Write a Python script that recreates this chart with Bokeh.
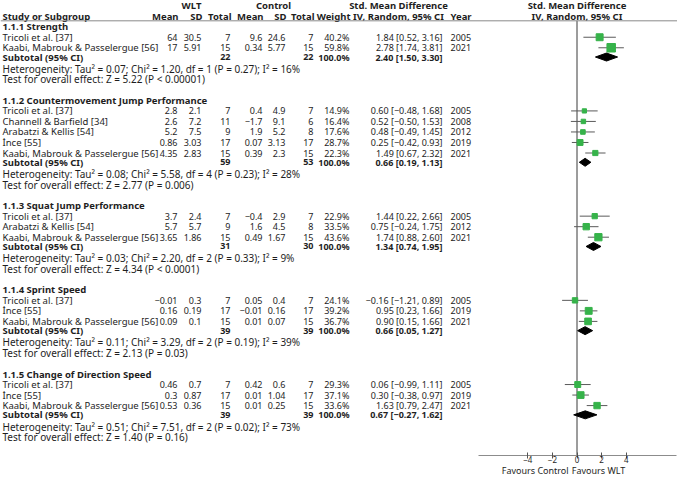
import math
from bokeh.plotting import figure
from bokeh.models import Range1d, LinearAxis, FixedTicker, Span, ColumnDataSource
from bokeh.core.properties import value
from bokeh.embed import file_html
from bokeh.resources import INLINE

# ---------------- data ----------------
group_titles = ["1.1.1 Strength", "1.1.2 Countermovement  Jump Performance",
                "1.1.3 Squat Jump Performance", "1.1.4 Sprint Speed",
                "1.1.5 Change of Direction Speed"]

study = ["Tricoli et al. [37]", "Kaabi, Mabrouk & Passelergue [56]",
         "Tricoli et al. [37]", "Channell & Barfield [34]", "Arabatzi & Kellis [54]",
         "İnce [55]", "Kaabi, Mabrouk & Passelergue [56]",
         "Tricoli et al. [37]", "Arabatzi & Kellis [54]", "Kaabi, Mabrouk & Passelergue [56]",
         "Tricoli et al. [37]", "İnce [55]", "Kaabi, Mabrouk & Passelergue [56]",
         "Tricoli et al. [37]", "İnce [55]", "Kaabi, Mabrouk & Passelergue [56]"]
study_group = [0, 0, 1, 1, 1, 1, 1, 2, 2, 2, 3, 3, 3, 4, 4, 4]
wlt_mean = ["64", "17", "2.8", "2.6", "5.2", "0.86", "4.35", "3.7", "5.7", "3.65",
            "−0.01", "0.16", "0.09", "0.46", "0.3", "0.53"]
wlt_sd = ["30.5", "5.91", "2.1", "7.2", "7.5", "3.03", "2.83", "2.4", "5.7", "1.86",
          "0.3", "0.19", "0.1", "0.7", "0.87", "0.36"]
wlt_n = [7, 15, 7, 11, 9, 17, 15, 7, 9, 15, 7, 17, 15, 7, 17, 15]
ctl_mean = ["9.6", "0.34", "0.4", "−1.7", "1.9", "0.07", "0.39", "−0.4", "1.6", "0.49",
            "0.05", "−0.01", "0.01", "0.42", "0.01", "0.01"]
ctl_sd = ["24.6", "5.77", "4.9", "9.1", "5.2", "3.13", "2.3", "2.9", "4.5", "1.67",
          "0.4", "0.16", "0.07", "0.6", "1.04", "0.25"]
ctl_n = [7, 15, 7, 6, 8, 17, 15, 7, 8, 15, 7, 17, 15, 7, 17, 15]
weight = [40.2, 59.8, 14.9, 16.4, 17.6, 28.7, 22.3, 22.9, 33.5, 43.6,
          24.1, 39.2, 36.7, 29.3, 37.1, 33.6]
smd = [1.84, 2.78, 0.60, 0.52, 0.48, 0.25, 1.49, 1.44, 0.75, 1.74,
       -0.16, 0.95, 0.90, 0.06, 0.30, 1.63]
smd_lo = [0.52, 1.74, -0.48, -0.50, -0.49, -0.42, 0.67, 0.22, -0.24, 0.88,
          -1.21, 0.23, 0.15, -0.99, -0.38, 0.79]
smd_hi = [3.16, 3.81, 1.68, 1.53, 1.45, 0.93, 2.32, 2.66, 1.75, 2.60,
          0.89, 1.66, 1.66, 1.11, 0.97, 2.47]
year = [2005, 2021, 2005, 2008, 2012, 2019, 2021, 2005, 2012, 2021,
        2005, 2019, 2021, 2005, 2019, 2021]

sub_wlt_n = [22, 59, 31, 39, 39]
sub_ctl_n = [22, 53, 30, 39, 39]
sub_smd = [2.40, 0.66, 1.34, 0.66, 0.67]
sub_lo = [1.50, 0.19, 0.74, 0.05, -0.27]
sub_hi = [3.30, 1.13, 1.95, 1.27, 1.62]
het_tau2 = ["0.07", "0.08", "0.03", "0.11", "0.51"]
het_chi2 = ["1.20", "5.58", "2.20", "3.29", "7.51"]
het_df = [1, 4, 2, 2, 2]
het_p = ["0.27", "0.23", "0.33", "0.19", "0.02"]
het_i2 = [16, 28, 9, 39, 73]
z_val = ["5.22", "2.77", "4.34", "2.13", "1.40"]
z_p = ["P < 0.00001", "P = 0.006", "P < 0.0001", "P = 0.03", "P = 0.16"]

tick_vals = [-4, -2, 0, 2, 4]
tick_text = ["−4", "−2", "0", "2", "4"]
favour_text = ["Favours Control", "Favours WLT"]

# ---------------- layout ----------------
MINUS = "\u2212"
def fmt(v):
    return f"{v:.2f}".replace("-", MINUS)

FIG_W, FIG_H = 677, 479
X0, X1 = 2.0, 679.0           # table coordinates (reference pixels)
ZERO_X, PX_PER_UNIT = 578.5, 12.3
ROW_PX = 10.524
TOP_OFF = 26.22
FRAME_H = 455                 # figure height minus the two axis panels
r_top = -TOP_OFF / ROW_PX
r_bot = (FRAME_H - TOP_OFF) / ROW_PX
SUB_SHIFT = 0.12              # subtotal rows sit slightly closer to the studies

FONT = value("Noto Sans")
TXT = "#1e1e1e"
FS_NAME, FS_TEXT, FS_BOLD, FS_NUM, FS_HEAD = "9.5px", "10px", "9.5px", "9px", "9.5px"

C_LABEL = 4
C_WMEAN, C_WSD, C_WN = 179, 203, 232
C_CMEAN, C_CSD, C_CN = 264, 287, 315
C_WEIGHT, C_CI, C_YEAR = 351, 444, 452
C_WLT, C_CTL, C_SMDHDR = 193, 275, 400

p = figure(width=FIG_W, height=FIG_H, x_range=Range1d(X0, X1), y_range=Range1d(r_bot, r_top),
           x_axis_type=None, y_axis_type=None, toolbar_location=None,
           output_backend="svg", min_border=0, outline_line_color=None)
p.extra_x_ranges = {"smd": Range1d((X0 - ZERO_X) / PX_PER_UNIT, (X1 - ZERO_X) / PX_PER_UNIT)}

items = {}
def add(x, r, t, align="left", bold=False, size=FS_NAME):
    key = (align, bold, size)
    d = items.setdefault(key, {"x": [], "y": [], "t": []})
    d["x"].append(x); d["y"].append(r); d["t"].append(t)

# header
add(C_WLT, -2, "WLT", "center", True, FS_HEAD)
add(C_CTL, -2, "Control", "center", True, FS_HEAD)
add(C_SMDHDR, -2, "Std. Mean Difference", "center", True, FS_HEAD)
add(ZERO_X, -2, "Std. Mean Difference", "center", True, FS_HEAD)
add(C_LABEL, -1, "Study or Subgroup", "left", True, FS_HEAD)
for cx, t in [(C_WMEAN, "Mean"), (C_WSD, "SD"), (C_WN, "Total"), (C_CMEAN, "Mean"),
              (C_CSD, "SD"), (C_CN, "Total"), (C_WEIGHT, "Weight")]:
    add(cx + 1, -1, t, "right", True, FS_HEAD)
add(C_SMDHDR, -1, "IV, Random, 95% CI", "center", True, FS_HEAD)
add(C_YEAR, -1, "Year", "left", True, FS_HEAD)
add(ZERO_X, -1, "IV, Random, 95% CI", "center", True, FS_HEAD)

study_rows, sub_rows = [], []
row = 0
for g, title in enumerate(group_titles):
    add(C_LABEL, row, title, "left", True, FS_BOLD)
    row += 1
    for k in range(len(study)):
        if study_group[k] != g:
            continue
        add(C_LABEL, row, study[k])
        add(C_WMEAN, row, wlt_mean[k], "right", size=FS_NUM)
        add(C_WSD, row, wlt_sd[k], "right", size=FS_NUM)
        add(C_WN, row, str(wlt_n[k]), "right", size=FS_NUM)
        add(C_CMEAN, row, ctl_mean[k], "right", size=FS_NUM)
        add(C_CSD, row, ctl_sd[k], "right", size=FS_NUM)
        add(C_CN, row, str(ctl_n[k]), "right", size=FS_NUM)
        add(C_WEIGHT, row, f"{weight[k]:.1f}%", "right", size=FS_NUM)
        add(C_CI, row, f"{fmt(smd[k])} [{fmt(smd_lo[k])}, {fmt(smd_hi[k])}]", "right", size=FS_NUM)
        add(C_YEAR, row, str(year[k]), size=FS_NUM)
        study_rows.append(row)
        row += 1
    sr = row - SUB_SHIFT
    add(C_LABEL, sr, "Subtotal (95% CI)", "left", True, FS_BOLD)
    add(C_WN, sr, str(sub_wlt_n[g]), "right", True, FS_NUM)
    add(C_CN, sr, str(sub_ctl_n[g]), "right", True, FS_NUM)
    add(C_WEIGHT, sr, "100.0%", "right", True, FS_NUM)
    add(C_CI, sr, f"{fmt(sub_smd[g])} [{fmt(sub_lo[g])}, {fmt(sub_hi[g])}]", "right", True, FS_NUM)
    sub_rows.append(sr)
    row += 1
    add(C_LABEL, row, f"Heterogeneity: Tau² = {het_tau2[g]}; Chi² = {het_chi2[g]}, "
                      f"df = {het_df[g]} (P = {het_p[g]}); I² = {het_i2[g]}%", size=FS_TEXT)
    row += 1
    add(C_LABEL, row, f"Test for overall effect: Z = {z_val[g]} ({z_p[g]})", size=FS_TEXT)
    row += 2

for (align, bold, size), d in items.items():
    p.text(x="x", y="y", text="t", source=ColumnDataSource(d), text_align=align,
           text_baseline="middle", text_font=FONT, text_font_size=size,
           text_font_style="bold" if bold else "normal", text_color=TXT)

# separator and zero line
sep_row = -0.56
p.add_layout(Span(location=sep_row, dimension="width", line_color="#8a8a8a", line_width=1))
p.segment(x0=[0], y0=[sep_row], x1=[0], y1=[r_bot], x_range_name="smd",
          line_color="#3a3a3a", line_width=1)

# study CIs and squares
p.segment(x0=smd_lo, y0=study_rows, x1=smd_hi, y1=study_rows, x_range_name="smd",
          line_color="#5a5a5a", line_width=1)
sizes = [1.1 * math.sqrt(w) for w in weight]
p.scatter(x=smd, y=study_rows, size=sizes, marker="square", x_range_name="smd",
          fill_color="#36b34a", line_color="#36b34a")

# subtotal diamonds
dh = 0.38
xs = [[lo, m, hi, m] for lo, m, hi in zip(sub_lo, sub_smd, sub_hi)]
ys = [[r, r - dh, r, r + dh] for r in sub_rows]
p.patches(xs=xs, ys=ys, x_range_name="smd", fill_color="black", line_color="black")

# axis
ax = LinearAxis(x_range_name="smd", ticker=FixedTicker(ticks=tick_vals), bounds=(-8, 8.1))
ax.major_label_overrides = {float(v): t for v, t in zip(tick_vals, tick_text)}
ax.axis_line_color = "#8c8c8c"
ax.major_tick_line_color = "#555555"
ax.major_tick_in = 3
ax.major_tick_out = 3
ax.minor_tick_line_color = None
ax.major_label_standoff = -3
ax.major_label_text_font = "Noto Sans"
ax.major_label_text_font_size = "8px"
ax.major_label_text_color = TXT
p.add_layout(ax, "below")

# favours labels as a second, line-less axis
fav_pos = [-3.4, 1.75]
ax2 = LinearAxis(x_range_name="smd", ticker=FixedTicker(ticks=fav_pos))
ax2.major_label_overrides = {fav_pos[0]: favour_text[0], fav_pos[1]: favour_text[1]}
ax2.axis_line_color = None
ax2.major_tick_line_color = None
ax2.minor_tick_line_color = None
ax2.major_tick_in = 0
ax2.major_tick_out = 0
ax2.major_label_standoff = -2
ax2.major_label_text_font = "Noto Sans"
ax2.major_label_text_font_size = "9px"
ax2.major_label_text_color = TXT
p.add_layout(ax2, "below")

open("out.html", "w").write(file_html(p, INLINE))
